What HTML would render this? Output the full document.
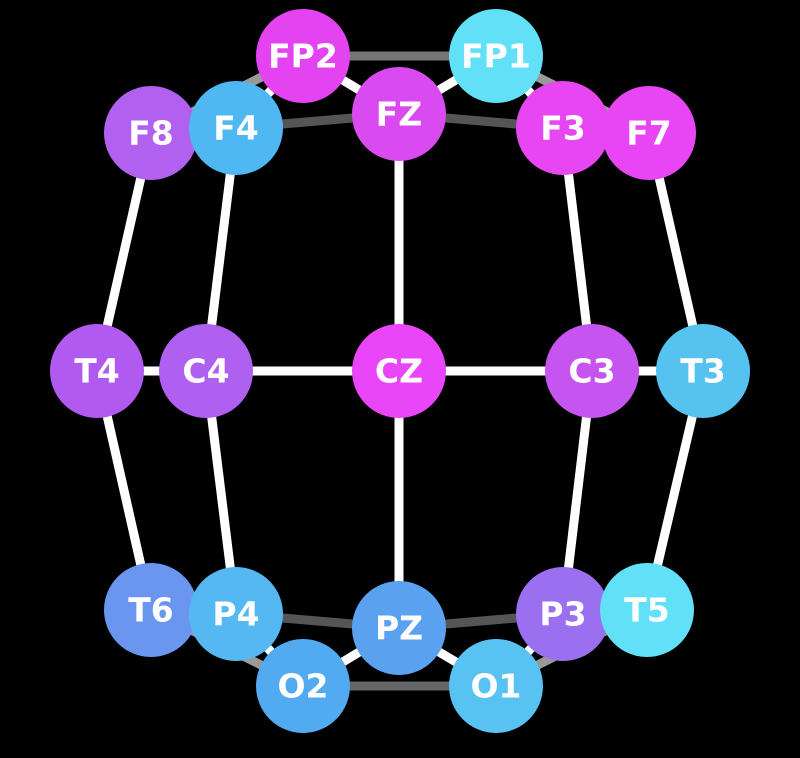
<!DOCTYPE html>
<html><head><meta charset="utf-8"><style>
html,body{margin:0;padding:0;background:#000;width:800px;height:758px;overflow:hidden}
svg text{font-family:"DejaVu Sans","Liberation Sans",sans-serif;font-weight:bold;font-size:33px;fill:#fff;text-anchor:middle;dominant-baseline:central}
</style></head><body>
<svg id="chart" width="800" height="758" viewBox="0 0 800 758"></svg>
<script>
const nodeNames=["FP2","FP1","F8","F4","FZ","F3","F7","T4","C4","CZ","C3","T3","T6","P4","PZ","P3","T5","O2","O1"];
const nodeX=[303,496,151,236,399,563,649,97,206,399,592,703,151,236,399,563,647,303,496];
const nodeY=[56,56,133,128,114,128,133,371,371,371,371,371,610,614,628,614,610,686,686];
const nodeColors=["#e443f2","#62e0f8","#b160f0","#4fb8f2","#d94af0","#e846f2","#e846f4","#b05af0","#b060f0","#e846f8","#c654f0","#56c2f0","#6a96f0","#55b8f2","#5aa2f0","#9a70f0","#62e0f8","#52aaf0","#58c2f2"];
const edgeFrom=["FP2","FP2","FP2","FP2","FP1","FP1","FP1","F4","FZ","F8","F4","FZ","F3","F7","T4","C4","CZ","C3","T4","C4","CZ","C3","T3","P4","PZ","P4","T6","PZ","PZ","O2","O1","O1"];
const edgeTo=["FP1","F8","F4","FZ","FZ","F3","F7","FZ","F3","T4","C4","CZ","C3","T3","C4","CZ","C3","T3","T6","P4","PZ","P3","T5","PZ","P3","O2","O2","O2","O1","O1","P3","T5"];
const edgeColors=["#777","#999","#fff","#fff","#fff","#fff","#999","#555","#555","#fff","#fff","#fff","#fff","#fff","#fff","#fff","#fff","#fff","#fff","#fff","#fff","#fff","#fff","#555","#555","#fff","#999","#fff","#fff","#666","#fff","#999"];
const NS="http://www.w3.org/2000/svg";
const svg=document.getElementById("chart");
const idx=n=>nodeNames.indexOf(n);
for(let i=0;i<edgeFrom.length;i++){
  const a=idx(edgeFrom[i]),b=idx(edgeTo[i]);
  const l=document.createElementNS(NS,"line");
  l.setAttribute("x1",nodeX[a]);l.setAttribute("y1",nodeY[a]);
  l.setAttribute("x2",nodeX[b]);l.setAttribute("y2",nodeY[b]);
  l.setAttribute("stroke",edgeColors[i]);l.setAttribute("stroke-width","9");
  
  
  svg.appendChild(l);
}
const order=["F8","T6","FP2","FP1","FZ","F4","F3","F7","T4","C4","CZ","C3","T3","P3","T5","PZ","P4","O2","O1"];
for(const n of order){
  const i=idx(n);
  const g=document.createElementNS(NS,"g");
  
  
  const c=document.createElementNS(NS,"circle");
  c.setAttribute("cx",nodeX[i]);c.setAttribute("cy",nodeY[i]);c.setAttribute("r","47");
  c.setAttribute("fill",nodeColors[i]);
  const t=document.createElementNS(NS,"text");
  t.setAttribute("x",nodeX[i]);t.setAttribute("y",nodeY[i]);
  t.textContent=n;
  g.appendChild(c);g.appendChild(t);svg.appendChild(g);
}
</script>
</body></html>
